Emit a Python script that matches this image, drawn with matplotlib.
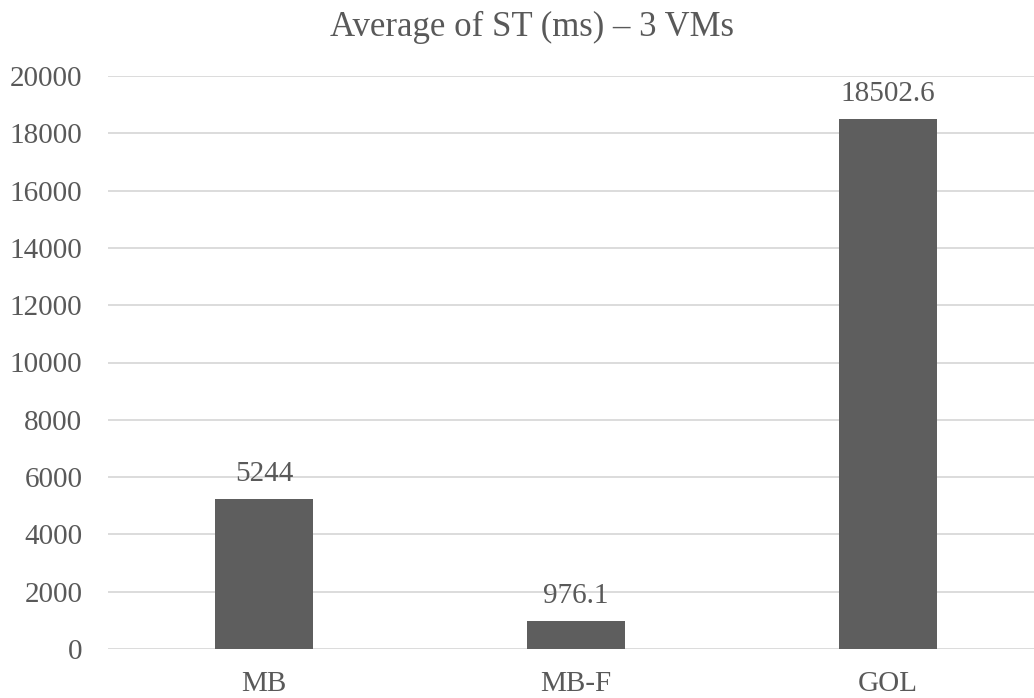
import matplotlib
matplotlib.use("Agg")
import matplotlib.pyplot as plt

categories = ["MB", "MB-F", "GOL"]
values = [5244, 976.1, 18502.6]
value_labels = ["5244", "976.1", "18502.6"]
yticks = [0, 2000, 4000, 6000, 8000, 10000, 12000, 14000, 16000, 18000, 20000]

TEXT = "#595959"
BAR = "#5e5e5e"
GRID = "#d9d9d9"

plt.rcParams['font.family'] = ['Liberation Serif', 'DejaVu Serif']

fig = plt.figure(figsize=(10.34, 6.98), dpi=100)
# plot area runs past the right edge of the picture, as in the original
ax = fig.add_axes([108 / 1034, 1 - 649 / 698, (1044 - 108) / 1034, (649 - 76) / 698])

x = range(len(categories))
bars = ax.bar(x, values, width=0.314, color=BAR, zorder=3)
for b, lab in zip(bars, value_labels):
    ax.annotate(lab, (b.get_x() + b.get_width() / 2, b.get_height()),
                xytext=(0, 13), textcoords='offset points',
                ha='center', va='baseline', fontsize=21, color=TEXT)

ax.set_xlim(-0.5, 2.5)
ax.set_ylim(0, 20000)
ax.set_yticks(yticks)
ax.set_xticks(list(x))
ax.set_xticklabels(categories)
ax.tick_params(axis='both', length=0, labelsize=21, labelcolor=TEXT)
ax.tick_params(axis='y', pad=18.5)
ax.tick_params(axis='x', pad=15.5)
ax.grid(axis='y', color=GRID, linewidth=1.3, zorder=0)
for s in ax.spines.values():
    s.set_visible(False)

fig.text(531.5 / 1034, 1 - 36 / 698, "Average of ST (ms) \u2013 3 VMs",
         ha='center', va='baseline', fontsize=25, color=TEXT)

fig.savefig("out.png", dpi=100)
